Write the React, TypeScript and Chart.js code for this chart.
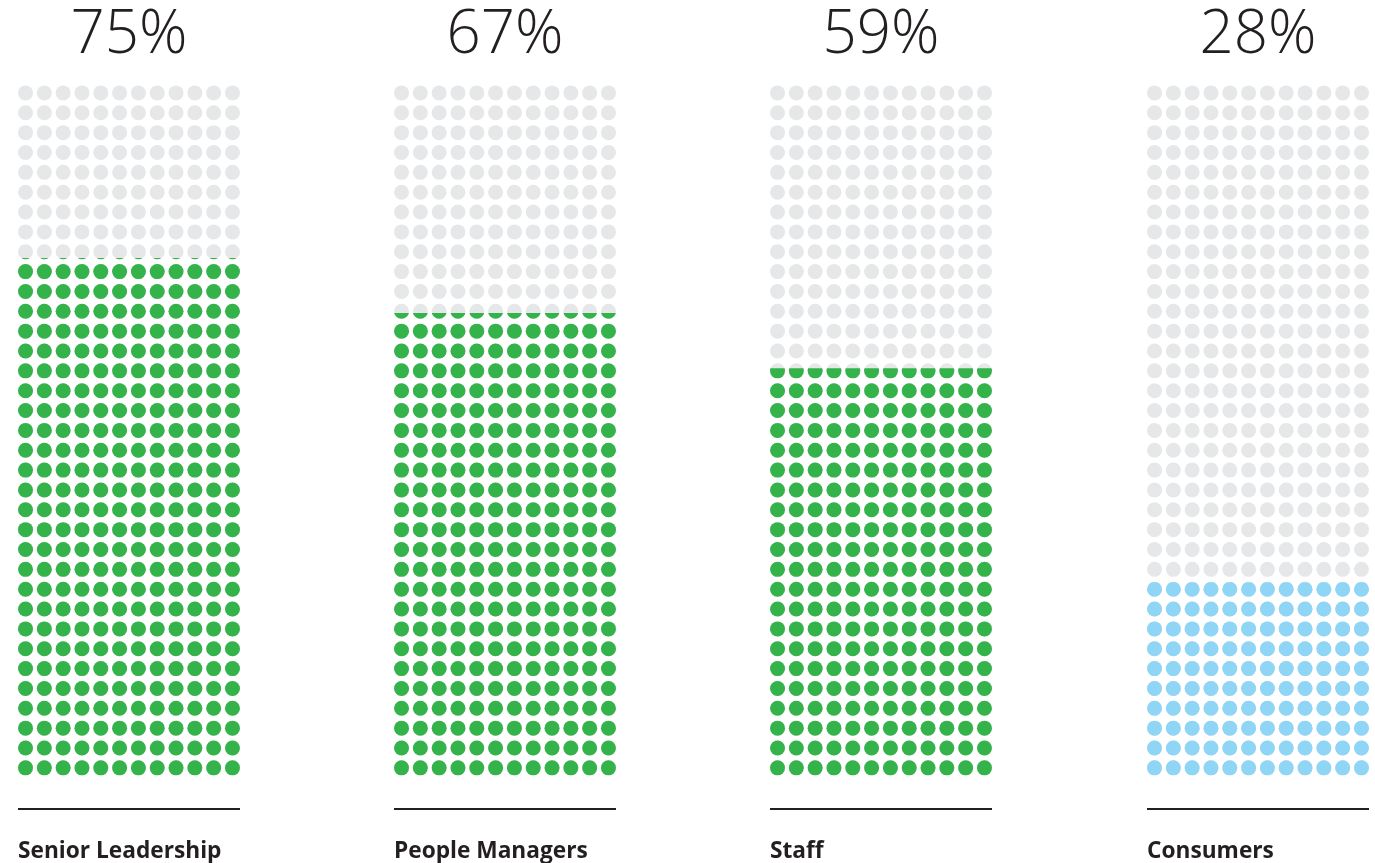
import React, { useEffect, useRef } from "react";
import { Chart, registerables } from "chart.js";

Chart.register(...registerables);

// ---- data ----
const categories: string[] = ["Senior Leadership", "People Managers", "Staff", "Consumers"];
const percentages: number[] = [75, 67, 59, 28];
const fillColors: string[] = ["#33b34a", "#33b34a", "#33b34a", "#8fd5f6"];
const EMPTY_COLOR = "#e6e7e8";
const TEXT_COLOR = "#231f20";
const GRID_COLS = 12;
const GRID_ROWS = 35;

// ---- layout ----
const columnLefts = [18, 394, 770, 1147];
const COL_WIDTH = 222;
const CANVAS_HEIGHT = 865;
const POINT_R = 7.5;

const gridPoints: { x: number; y: number }[] = [];
for (let r = 0; r < GRID_ROWS; r++) {
  for (let c = 0; c < GRID_COLS; c++) {
    gridPoints.push({ x: c, y: r });
  }
}

// clips the filled dataset (index 0) to the share of the grid height given by the value
const fillClip = {
  id: "fillClip",
  beforeDatasetDraw(chart: any, args: any, opts: any) {
    if (args.index !== 0) return;
    const ys = chart.scales.y;
    const bottom = ys.getPixelForValue(0) + POINT_R;
    const top = ys.getPixelForValue(GRID_ROWS - 1) - POINT_R;
    const clipTop = bottom - (opts.value / 100) * (bottom - top);
    const ctx = chart.ctx;
    ctx.save();
    ctx.beginPath();
    ctx.rect(-50, clipTop, chart.width + 100, bottom - clipTop + 50);
    ctx.clip();
  },
  afterDatasetDraw(chart: any, args: any) {
    if (args.index !== 0) return;
    chart.ctx.restore();
  },
};

function Waffle({ index }: { index: number }) {
  const ref = useRef<HTMLCanvasElement | null>(null);
  useEffect(() => {
    if (!ref.current) return;
    const pct = percentages[index];
    const chart = new Chart(ref.current, {
      type: "scatter",
      data: {
        datasets: [
          {
            data: gridPoints,
            pointRadius: POINT_R,
            pointHoverRadius: POINT_R,
            pointBackgroundColor: fillColors[index],
            backgroundColor: fillColors[index],
            borderColor: fillColors[index],
            pointBorderWidth: 0,
            order: 1,
            clip: false,
          } as any,
          {
            data: gridPoints,
            pointRadius: POINT_R,
            pointHoverRadius: POINT_R,
            pointBackgroundColor: EMPTY_COLOR,
            backgroundColor: EMPTY_COLOR,
            borderColor: EMPTY_COLOR,
            pointBorderWidth: 0,
            order: 2,
            clip: false,
          } as any,
        ],
      },
      options: {
        responsive: false,
        animation: false,
        events: [],
        layout: { padding: 0, autoPadding: false },
        plugins: {
          legend: { display: false },
          tooltip: { enabled: false },
          title: {
            display: true,
            text: `${pct}%`,
            color: TEXT_COLOR,
            font: { family: "'Open Sans', sans-serif", size: 60, weight: "300" as any, lineHeight: 1 },
            padding: { top: 6, bottom: 17 },
          },
          fillClip: { value: pct },
        } as any,
        scales: {
          x: {
            type: "linear",
            min: -0.4,
            max: 11.4,
            grid: { display: false, drawTicks: false },
            ticks: { display: false },
            border: { display: true, color: TEXT_COLOR, width: 2 },
            title: {
              display: true,
              text: categories[index],
              align: "start",
              color: TEXT_COLOR,
              font: { family: "'Open Sans', sans-serif", size: 22.7, weight: "bold", lineHeight: 1.2 },
              padding: { top: 28.8, bottom: 0 },
            },
          },
          y: {
            type: "linear",
            min: -2.07,
            max: 34.5,
            display: false,
          },
        },
      },
      plugins: [fillClip as any],
    });
    return () => chart.destroy();
  }, [index]);
  return (
    <canvas
      ref={ref}
      width={COL_WIDTH}
      height={CANVAS_HEIGHT}
      style={{ position: "absolute", left: columnLefts[index], top: 0, width: COL_WIDTH, height: CANVAS_HEIGHT }}
    />
  );
}

export default function App() {
  return (
    <div
      style={{
        position: "absolute",
        left: 0,
        top: 0,
        width: 1375,
        height: 863,
        overflow: "hidden",
        background: "#ffffff",
      }}
    >
      {categories.map((_, i) => (
        <Waffle key={i} index={i} />
      ))}
    </div>
  );
}
